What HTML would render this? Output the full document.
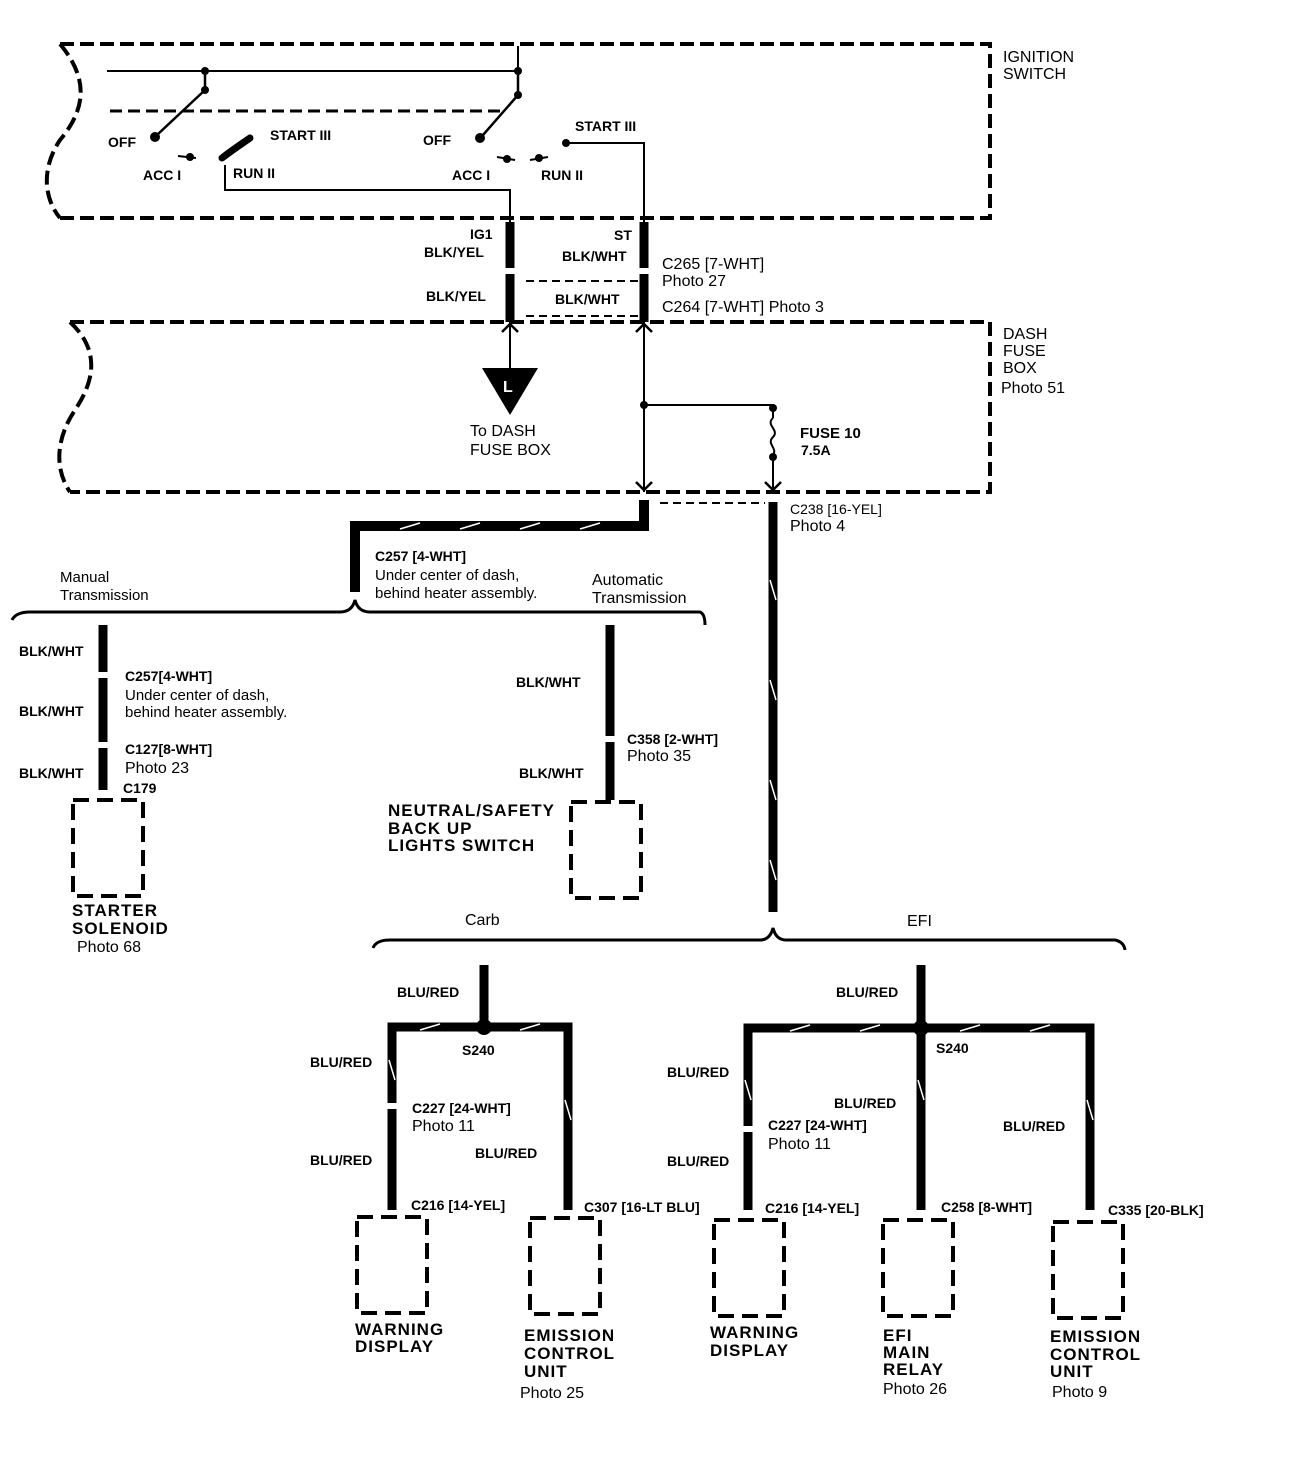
<!DOCTYPE html>
<html><head><style>
html,body{margin:0;padding:0;background:#fff}
svg{display:block}
text{font-family:"Liberation Sans",sans-serif;fill:#000}
.b{font-weight:bold;font-size:14px}
.n{font-size:16px}
.L{font-weight:bold;font-size:17px;letter-spacing:1px}
</style></head><body>
<svg width="1312" height="1468" viewBox="0 0 1312 1468" xmlns="http://www.w3.org/2000/svg">
<defs>
<g id="box"><rect x="0" y="0" width="70" height="96" fill="none" stroke="#000" stroke-width="4" stroke-dasharray="16 8"/></g>
</defs>
<g fill="none" stroke="#000">
<!-- ignition box -->
<path d="M60,44 L990,44 L990,218 L60,218" stroke-width="4" stroke-dasharray="14 6"/>
<path d="M60,44 C90,80 85,110 60,140 C40,170 45,200 60,218" stroke-width="4" stroke-dasharray="14 6"/>
<!-- dash fuse box -->
<path d="M70,322 L990,322 L990,492 L70,492" stroke-width="4" stroke-dasharray="14 6"/>
<path d="M70,322 C100,350 95,380 75,410 C55,440 55,470 70,492" stroke-width="4" stroke-dasharray="14 6"/>
<!-- switch internals -->
<path d="M107,71 L518,71 M518,46 L518,71" stroke-width="2"/>
<path d="M110,111 L500,111" stroke-width="3" stroke-dasharray="12 6"/>
<path d="M205,71 L205,90 L157,135 M518,71 L518,95 L483,135" stroke-width="2.5"/>
<path d="M222,158 C235,148 243,143 250,138" stroke-width="7" stroke-linecap="round"/>
<path d="M225,165 L225,190 L510,190 L510,222" stroke-width="2"/>
<path d="M565,143 L644,143 L644,222" stroke-width="2"/>
<path d="M178,156 L196,158 M497,157 L515,160 M530,160 L548,157" stroke-width="2"/>
<!-- thick ignition wires -->
<path d="M510,222 L510,322 M644,222 L644,322" stroke-width="9"/>
<path d="M526,281 L644,281 M526,316 L644,316" stroke-width="2" stroke-dasharray="8 5"/>
<!-- fuse box internals -->
<path d="M510,322 L510,368" stroke-width="2"/>
<path d="M644,322 L644,492 M644,405 L773,405 L773,418 M773,455 L773,492" stroke-width="2"/>
<path d="M773,418 C765,425 780,430 773,437 C766,444 778,448 773,455" stroke-width="2"/>
<path d="M502,332 L510,324 L518,332 M636,332 L644,324 L652,332 M636,482 L644,490 L652,482 M765,482 L773,490 L781,482" stroke-width="2.5"/>
<!-- lower thick wires -->
<path d="M644,500 L644,526 L355,526 L355,592" stroke-width="10"/>
<path d="M660,503 L765,503" stroke-width="2" stroke-dasharray="8 5"/>
<path d="M773,502 L773,912" stroke-width="9"/>
<!-- manual/auto bracket -->
<path d="M12,620 Q16,612 30,612 L340,612 Q352,612 355,600 Q358,612 370,612 L700,612 Q705,614 705,625" stroke-width="3"/>
<path d="M103,625 L103,790" stroke-width="9"/>
<path d="M610,625 L610,800" stroke-width="9"/>
<!-- carb/efi bracket -->
<path d="M373,948 Q376,940 390,940 L760,940 Q770,940 773,928 Q776,940 786,940 L1115,940 Q1124,942 1125,950" stroke-width="3"/>
<path d="M484,965 L484,1027 M392,1210 L392,1027 L568,1027 L568,1210" stroke-width="9"/>
<path d="M921,965 L921,1028 M748,1210 L748,1028 L1090,1028 L1090,1210 M921,1028 L921,1210" stroke-width="9"/>
</g>
<!-- wire slashes (white) -->
<g stroke="#fff" stroke-width="1.5">
<path d="M400,529 L420,523 M460,529 L480,523 M520,529 L540,523 M580,529 L600,523 M770,580 L776,600 M770,680 L776,700 M770,780 L776,800 M770,860 L776,880"/>
<path d="M420,1030 L440,1024 M520,1030 L540,1024 M790,1031 L810,1025 M860,1031 L880,1025 M960,1031 L980,1025 M1030,1031 L1050,1025 M389,1060 L395,1080 M565,1100 L571,1120 M745,1080 L751,1100 M1087,1100 L1093,1120 M918,1080 L924,1100"/>
</g>
<!-- connectors (white gaps) -->
<g fill="#fff"><rect x="502" y="268" width="16" height="6"/><rect x="636" y="268" width="16" height="6"/>
<rect x="95" y="672" width="16" height="6"/><rect x="95" y="742" width="16" height="6"/><rect x="602" y="736" width="16" height="6"/>
<rect x="384" y="1103" width="16" height="6"/><rect x="740" y="1126" width="16" height="6"/></g>
<g fill="#000">
<circle cx="205" cy="71" r="4"/><circle cx="205" cy="90" r="4"/><circle cx="518" cy="71" r="4"/><circle cx="518" cy="95" r="4"/>
<circle cx="155" cy="137" r="5"/><circle cx="480" cy="138" r="5"/><circle cx="190" cy="157" r="4"/><circle cx="507" cy="159" r="4"/><circle cx="539" cy="158" r="4"/><circle cx="566" cy="143" r="4"/>
<circle cx="644" cy="405" r="4"/><circle cx="773" cy="408" r="4"/><circle cx="773" cy="457" r="4"/>
<circle cx="484" cy="1027" r="8"/><circle cx="921" cy="1028" r="8"/>
<polygon points="482,368 538,368 510,415"/>
</g>
<text x="503" y="392" style="fill:#fff;font-weight:bold;font-size:16px">L</text>
<!-- boxes -->
<use href="#box" x="73" y="800"/><use href="#box" x="571" y="802"/>
<use href="#box" x="357" y="1217"/><use href="#box" x="530" y="1218"/>
<use href="#box" x="714" y="1220"/><use href="#box" x="883" y="1220"/><use href="#box" x="1053" y="1222"/>
<!-- labels -->
<text class="n" x="1003" y="62">IGNITION</text><text class="n" x="1003" y="79">SWITCH</text>
<text class="b" x="108" y="147">OFF</text><text class="b" x="270" y="140">START III</text>
<text class="b" x="143" y="180">ACC I</text><text class="b" x="233" y="178">RUN II</text>
<text class="b" x="423" y="145">OFF</text><text class="b" x="575" y="131">START III</text>
<text class="b" x="452" y="180">ACC I</text><text class="b" x="541" y="180">RUN II</text>
<text class="b" x="470" y="239">IG1</text><text class="b" x="424" y="257">BLK/YEL</text>
<text class="b" x="614" y="240">ST</text><text class="b" x="562" y="261">BLK/WHT</text>
<text class="n" x="662" y="269">C265 [7-WHT]</text><text class="n" x="662" y="286">Photo 27</text>
<text class="b" x="426" y="301">BLK/YEL</text><text class="b" x="555" y="304">BLK/WHT</text>
<text class="n" x="662" y="312">C264 [7-WHT] Photo 3</text>
<text class="n" x="1003" y="339">DASH</text><text class="n" x="1003" y="356">FUSE</text><text class="n" x="1003" y="373">BOX</text><text class="n" x="1001" y="393">Photo 51</text>
<text class="n" x="470" y="436">To DASH</text><text class="n" x="470" y="455">FUSE BOX</text>
<text class="b" x="800" y="438" style="font-size:15px">FUSE 10</text><text class="b" x="801" y="455">7.5A</text>
<text class="n" x="790" y="514" style="font-size:14px">C238 [16-YEL]</text><text class="n" x="790" y="531">Photo 4</text>
<text class="b" x="375" y="561">C257 [4-WHT]</text><text class="n" x="375" y="580" style="font-size:15px">Under center of dash,</text><text class="n" x="375" y="598" style="font-size:15px">behind heater assembly.</text>
<text class="n" x="60" y="582" style="font-size:15px">Manual</text><text class="n" x="60" y="600" style="font-size:15px">Transmission</text>
<text class="n" x="592" y="585">Automatic</text><text class="n" x="592" y="603">Transmission</text>
<text class="b" x="19" y="656">BLK/WHT</text><text class="b" x="19" y="716">BLK/WHT</text><text class="b" x="19" y="778">BLK/WHT</text>
<text class="b" x="125" y="681">C257[4-WHT]</text><text class="n" x="125" y="700" style="font-size:15px">Under center of dash,</text><text class="n" x="125" y="717" style="font-size:15px">behind heater assembly.</text>
<text class="b" x="125" y="754">C127[8-WHT]</text><text class="n" x="125" y="773">Photo 23</text><text class="b" x="123" y="793">C179</text>
<text class="L" x="72" y="916">STARTER</text><text class="L" x="72" y="934">SOLENOID</text><text class="n" x="77" y="952">Photo 68</text>
<text class="b" x="516" y="687">BLK/WHT</text><text class="b" x="519" y="778">BLK/WHT</text>
<text class="b" x="627" y="744">C358 [2-WHT]</text><text class="n" x="627" y="761">Photo 35</text>
<text class="L" x="388" y="816">NEUTRAL/SAFETY</text><text class="L" x="388" y="834">BACK UP</text><text class="L" x="388" y="851">LIGHTS SWITCH</text>
<text class="n" x="465" y="925">Carb</text><text class="n" x="907" y="926">EFI</text>
<text class="b" x="397" y="997">BLU/RED</text><text class="b" x="462" y="1055">S240</text>
<text class="b" x="310" y="1067">BLU/RED</text><text class="b" x="310" y="1165">BLU/RED</text>
<text class="b" x="412" y="1113">C227 [24-WHT]</text><text class="n" x="412" y="1131">Photo 11</text>
<text class="b" x="475" y="1158">BLU/RED</text>
<text class="b" x="411" y="1210">C216 [14-YEL]</text><text class="b" x="584" y="1212">C307 [16-LT BLU]</text>
<text class="b" x="836" y="997">BLU/RED</text><text class="b" x="936" y="1053">S240</text>
<text class="b" x="667" y="1077">BLU/RED</text><text class="b" x="667" y="1166">BLU/RED</text>
<text class="b" x="834" y="1108">BLU/RED</text><text class="b" x="1003" y="1131">BLU/RED</text>
<text class="b" x="768" y="1130">C227 [24-WHT]</text><text class="n" x="768" y="1149">Photo 11</text>
<text class="b" x="765" y="1213">C216 [14-YEL]</text><text class="b" x="941" y="1212">C258 [8-WHT]</text><text class="b" x="1108" y="1215">C335 [20-BLK]</text>
<text class="L" x="355" y="1335">WARNING</text><text class="L" x="355" y="1352">DISPLAY</text>
<text class="L" x="524" y="1341">EMISSION</text><text class="L" x="524" y="1359">CONTROL</text><text class="L" x="524" y="1377">UNIT</text><text class="n" x="520" y="1398">Photo 25</text>
<text class="L" x="710" y="1338">WARNING</text><text class="L" x="710" y="1356">DISPLAY</text>
<text class="L" x="883" y="1341">EFI</text><text class="L" x="883" y="1358">MAIN</text><text class="L" x="883" y="1375">RELAY</text><text class="n" x="883" y="1394">Photo 26</text>
<text class="L" x="1050" y="1342">EMISSION</text><text class="L" x="1050" y="1360">CONTROL</text><text class="L" x="1050" y="1377">UNIT</text><text class="n" x="1052" y="1397">Photo 9</text>
</svg>
</body></html>
